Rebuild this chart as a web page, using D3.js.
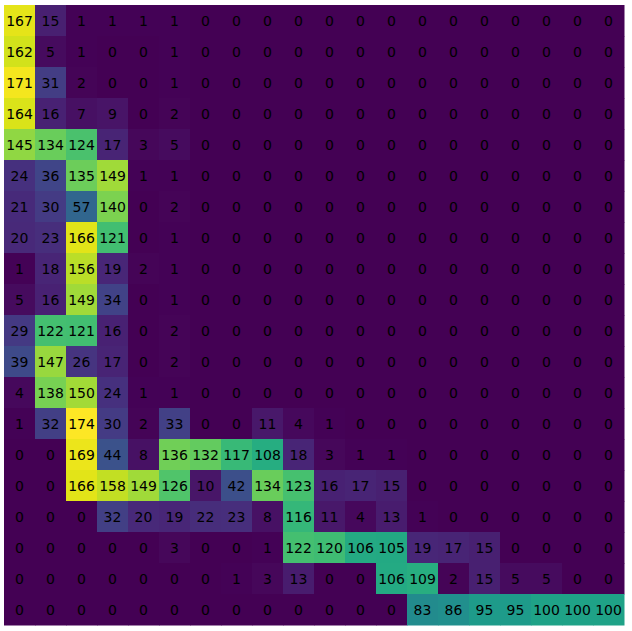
<!DOCTYPE html>
<html><head><meta charset="utf-8">
<script src="https://cdn.jsdelivr.net/npm/d3@7"></script>
<style>body{margin:0;background:#fff}</style>
</head><body>
<script>
const rowLabels = d3.range(20).map(String);
const colLabels = d3.range(20).map(String);
const r00 = [167,15,1,1,1,1,0,0,0,0,0,0,0,0,0,0,0,0,0,0];
const r01 = [162,5,1,0,0,1,0,0,0,0,0,0,0,0,0,0,0,0,0,0];
const r02 = [171,31,2,0,0,1,0,0,0,0,0,0,0,0,0,0,0,0,0,0];
const r03 = [164,16,7,9,0,2,0,0,0,0,0,0,0,0,0,0,0,0,0,0];
const r04 = [145,134,124,17,3,5,0,0,0,0,0,0,0,0,0,0,0,0,0,0];
const r05 = [24,36,135,149,1,1,0,0,0,0,0,0,0,0,0,0,0,0,0,0];
const r06 = [21,30,57,140,0,2,0,0,0,0,0,0,0,0,0,0,0,0,0,0];
const r07 = [20,23,166,121,0,1,0,0,0,0,0,0,0,0,0,0,0,0,0,0];
const r08 = [1,18,156,19,2,1,0,0,0,0,0,0,0,0,0,0,0,0,0,0];
const r09 = [5,16,149,34,0,1,0,0,0,0,0,0,0,0,0,0,0,0,0,0];
const r10 = [29,122,121,16,0,2,0,0,0,0,0,0,0,0,0,0,0,0,0,0];
const r11 = [39,147,26,17,0,2,0,0,0,0,0,0,0,0,0,0,0,0,0,0];
const r12 = [4,138,150,24,1,1,0,0,0,0,0,0,0,0,0,0,0,0,0,0];
const r13 = [1,32,174,30,2,33,0,0,11,4,1,0,0,0,0,0,0,0,0,0];
const r14 = [0,0,169,44,8,136,132,117,108,18,3,1,1,0,0,0,0,0,0,0];
const r15 = [0,0,166,158,149,126,10,42,134,123,16,17,15,0,0,0,0,0,0,0];
const r16 = [0,0,0,32,20,19,22,23,8,116,11,4,13,1,0,0,0,0,0,0];
const r17 = [0,0,0,0,0,3,0,0,1,122,120,106,105,19,17,15,0,0,0,0];
const r18 = [0,0,0,0,0,0,0,1,3,13,0,0,106,109,2,15,5,5,0,0];
const r19 = [0,0,0,0,0,0,0,0,0,0,0,0,0,83,86,95,95,100,100,100];
const matrix = [r00,r01,r02,r03,r04,r05,r06,r07,r08,r09,r10,r11,r12,r13,r14,r15,r16,r17,r18,r19];

const W = 632, H = 631;
const gLeft = 4, gTop = 5, gSize = 620;
const svg = d3.select("body").append("svg").attr("width", W).attr("height", H);
const x = d3.scaleBand().domain(colLabels).range([gLeft, gLeft + gSize]);
const y = d3.scaleBand().domain(rowLabels).range([gTop, gTop + gSize]);
const maxV = d3.max(matrix.flat()), minV = d3.min(matrix.flat());
const color = d3.scaleSequential(d3.interpolateViridis).domain([minV, maxV]);

const cells = [];
matrix.forEach((row, i) => row.forEach((v, j) => cells.push({r: rowLabels[i], c: colLabels[j], v})));

svg.append("g").selectAll("rect").data(cells).join("rect")
  .attr("x", d => x(d.c)).attr("y", d => y(d.r))
  .attr("width", x.bandwidth() + 0.5).attr("height", y.bandwidth() + 0.5)
  .attr("fill", d => color(d.v));

svg.append("g").selectAll("text").data(cells).join("text")
  .attr("x", d => x(d.c) + x.bandwidth() / 2)
  .attr("y", d => y(d.r) + y.bandwidth() / 2)
  .attr("text-anchor", "middle").attr("dominant-baseline", "central")
  .attr("font-family", "DejaVu Sans").attr("font-size", "14px")
  .attr("fill", "#000")
  .text(d => d.v);
</script>
</body></html>
